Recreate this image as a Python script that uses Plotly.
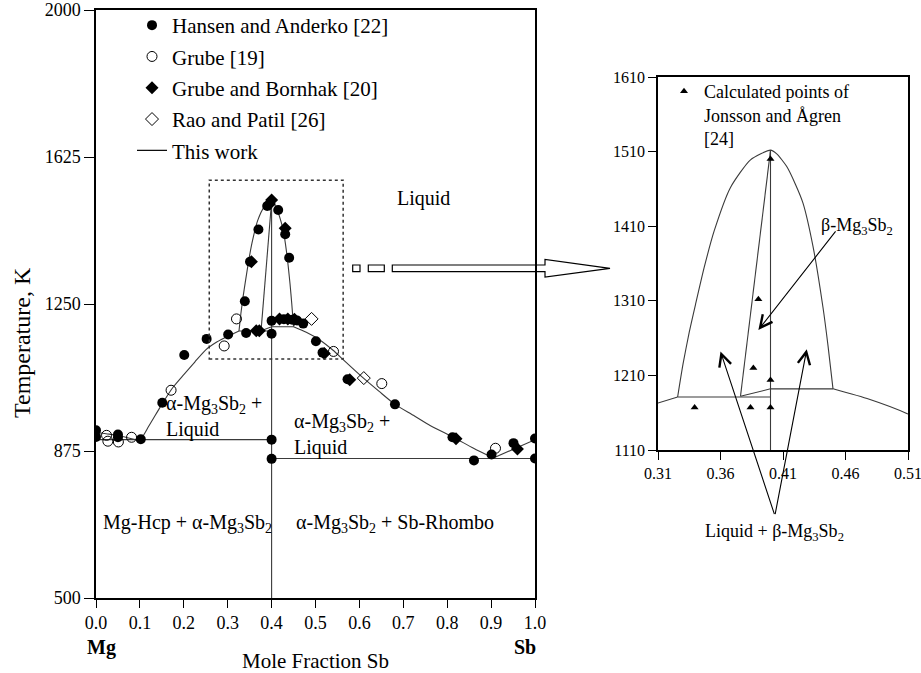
import plotly.graph_objects as go

W, H = 921, 673
FONT = "Liberation Serif, Times New Roman, serif"

# ---------------- data (mole fraction Sb, temperature K) ----------------
hansen_x = [0.0, 0.0, 0.05, 0.05, 0.102, 0.151, 0.201, 0.252, 0.301, 0.342, 0.339, 0.351,
            0.370, 0.39, 0.415, 0.431, 0.440, 0.40, 0.40, 0.40, 0.40, 0.428, 0.447, 0.458,
            0.472, 0.501, 0.516, 0.573, 0.681, 0.812, 0.861, 0.901, 0.951, 1.0, 1.0]
hansen_T = [928, 911, 917, 910, 905, 998, 1120, 1161, 1172, 1176, 1257, 1358,
            1440, 1500, 1490, 1428, 1368, 1207, 1174, 904, 855, 1211, 1210, 1208,
            1200, 1155, 1126, 1058, 994, 910, 851, 866, 895, 907, 856]

grube_x = [0.024, 0.027, 0.051, 0.081, 0.171, 0.292, 0.320, 0.541, 0.651, 0.910]
grube_T = [915, 900, 898, 910, 1030, 1143, 1212, 1129, 1047, 882]

bornhak_x = [0.365, 0.372, 0.354, 0.40, 0.395, 0.431, 0.418, 0.437, 0.452, 0.52, 0.578, 0.82, 0.96]
bornhak_T = [1182, 1182, 1358, 1515, 1505, 1443, 1212, 1212, 1211, 1124, 1057, 906, 880]

rao_x = [0.491, 0.610]
rao_T = [1212, 1061]

jonsson_x = [0.40, 0.3903, 0.3863, 0.40, 0.3393, 0.384, 0.40]
jonsson_T = [1500, 1312, 1220, 1204, 1167, 1167, 1167]

# calculated phase boundaries ("This work")
alpha_left_x = [0.0, 0.03, 0.06, 0.10, 0.12, 0.15, 0.175, 0.20, 0.225, 0.25, 0.275, 0.30, 0.31, 0.3257]
alpha_left_T = [923, 918, 912, 904, 938, 994, 1037, 1070, 1102, 1133, 1153, 1168, 1173, 1181]
alpha_right_x = [0.45, 0.479, 0.509, 0.54, 0.563, 0.606, 0.645, 0.681, 0.723, 0.761, 0.814, 0.86, 0.905]
alpha_right_T = [1192, 1178, 1159, 1132, 1108, 1064, 1027, 994, 966, 940, 910, 882, 857]
sb_liq_x = [0.905, 0.95, 1.0]
sb_liq_T = [857, 880, 904]
beta_liq_x = [0.3257, 0.330, 0.335, 0.340, 0.347, 0.355, 0.368, 0.384, 0.40,
              0.405, 0.413, 0.420, 0.426, 0.434, 0.442, 0.446, 0.450]
beta_liq_T = [1181, 1225, 1268, 1305, 1355, 1404, 1462, 1499, 1512,
              1507, 1490, 1466, 1441, 1383, 1301, 1250, 1192]
beta_inner_x = [0.376, 0.40]
beta_inner_T = [1182, 1512]
peri_left_x = [0.3257, 0.40]
peri_left_T = [1181, 1181]
peri_right_x = [0.376, 0.40, 0.45]
peri_right_T = [1182, 1192, 1192]
compound_x = [0.40, 0.40]
compound_T = [500, 1512]
eut_left_x = [0.0, 0.40]
eut_left_T = [904, 904]
eut_right_x = [0.40, 1.0]
eut_right_T = [856, 856]

x_ticks = [i / 10 for i in range(11)]
y_ticks = [500, 875, 1250, 1625, 2000]
x2_ticks = [0.31, 0.36, 0.41, 0.46, 0.51]
x2_ticktext = ["0.31", "0.36", "0.41", "0.46", "0.51"]
y2_ticks = [1110, 1210, 1310, 1410, 1510, 1610]

zoom_box = dict(x0=0.258, x1=0.563, y0=1110, y1=1566)


# ---------------- helpers ----------------
def px(x):
    return x / W


def py(y):
    return 1 - y / H


LINE_COLOR = "#3a3a3a"

fig = go.Figure()

curves = [
    (alpha_left_x, alpha_left_T, "spline"),
    (alpha_right_x, alpha_right_T, "spline"),
    (sb_liq_x, sb_liq_T, "linear"),
    (beta_liq_x, beta_liq_T, "spline"),
    (beta_inner_x, beta_inner_T, "linear"),
    (peri_left_x, peri_left_T, "linear"),
    (peri_right_x, peri_right_T, "linear"),
    (compound_x, compound_T, "linear"),
    (eut_left_x, eut_left_T, "linear"),
    (eut_right_x, eut_right_T, "linear"),
]

for ax_suffix in ["", "2"]:
    for cx, cy, shape in curves:
        fig.add_trace(go.Scatter(
            x=cx, y=cy, mode="lines",
            line=dict(color=LINE_COLOR, width=1.1, shape=shape, smoothing=0.6),
            xaxis="x" + ax_suffix, yaxis="y" + ax_suffix,
            showlegend=False, hoverinfo="skip",
        ))

# experimental points (main plot)
fig.add_trace(go.Scatter(
    x=hansen_x, y=hansen_T, mode="markers", name="Hansen and Anderko [22]",
    marker=dict(symbol="circle", size=10, color="black"), legendgroup="g1"))
fig.add_trace(go.Scatter(
    x=grube_x, y=grube_T, mode="markers", name="Grube [19]",
    marker=dict(symbol="circle-open", size=10, color="black", line=dict(width=1)), legendgroup="g2"))
fig.add_trace(go.Scatter(
    x=bornhak_x, y=bornhak_T, mode="markers", name="Grube and Bornhak [20]",
    marker=dict(symbol="diamond", size=10, color="black"), legendgroup="g3"))
fig.add_trace(go.Scatter(
    x=rao_x, y=rao_T, mode="markers", name="Rao and Patil [26]",
    marker=dict(symbol="diamond-open", size=10, color="black", line=dict(width=1)), legendgroup="g4"))
# legend entry for the calculated lines
fig.add_trace(go.Scatter(
    x=[None], y=[None], mode="lines", name="This work",
    line=dict(color="black", width=1.2), legendgroup="g5"))

# inset calculated points
fig.add_trace(go.Scatter(
    x=jonsson_x, y=jonsson_T, mode="markers",
    name="Calculated points of<br>Jonsson and Ågren<br>[24]",
    marker=dict(symbol="triangle-up", size=7, color="black"),
    xaxis="x2", yaxis="y2", legend="legend2"))

# ---------------- shapes ----------------
shapes = [
    dict(type="rect", xref="x", yref="y", line=dict(color="#333", width=1.5, dash="dot"),
         fillcolor="rgba(0,0,0,0)", **zoom_box),
    # hollow pointer arrow from the zoom box to the inset
    dict(type="rect", xref="paper", yref="paper", x0=px(352.7), x1=px(360), y0=py(271.7), y1=py(265),
         line=dict(color="black", width=1.2), fillcolor="rgba(0,0,0,0)"),
    dict(type="rect", xref="paper", yref="paper", x0=px(368.3), x1=px(384.3), y0=py(271.7), y1=py(265),
         line=dict(color="black", width=1.2), fillcolor="rgba(0,0,0,0)"),
    dict(type="path", xref="paper", yref="paper",
         path="M {a},{b} L {c},{b} L {c},{d} L {e},{f} L {c},{g} L {c},{h} L {a},{h} Z".format(
             a=px(392.3), b=py(265), c=px(545), d=py(259.5), e=px(610), f=py(268.3),
             g=py(277), h=py(271.7)),
         line=dict(color="black", width=1.2), fillcolor="rgba(0,0,0,0)"),
]

# ---------------- annotations ----------------
ann_font = dict(family=FONT, size=20, color="black")
ann_font_s = dict(family=FONT, size=18, color="black")
alpha = "α-Mg<sub>3</sub>Sb<sub>2</sub>"
beta = "β-Mg<sub>3</sub>Sb<sub>2</sub>"
C = dict(xanchor="center", yanchor="middle", showarrow=False)
L = dict(xanchor="left", yanchor="middle", showarrow=False, align="left")
annotations = [
    dict(x=0.745, y=1519, xref="x", yref="y", text="Liquid", font=ann_font, **C),
    dict(x=0.155, y=962, xref="x", yref="y", text=alpha + " +<br>Liquid", font=ann_font, **L),
    dict(x=0.447, y=918, xref="x", yref="y", text=alpha + " +<br>Liquid", font=ann_font, **L),
    dict(x=0.208, y=690, xref="x", yref="y", text="Mg-Hcp + " + alpha, font=ann_font, **C),
    dict(x=0.68, y=690, xref="x", yref="y", text=alpha + " + Sb-Rhombo", font=ann_font, **C),
    dict(x=0.012, y=py(647), xref="x", yref="paper", text="<b>Mg</b>", font=ann_font, **C),
    dict(x=0.978, y=py(647), xref="x", yref="paper", text="<b>Sb</b>", font=ann_font, **C),
    dict(x=px(315), y=py(661), xref="paper", yref="paper", text="Mole Fraction Sb",
         font=dict(family=FONT, size=21, color="black"), **C),
    dict(x=px(22), y=py(343), xref="paper", yref="paper", text="Temperature, K",
         font=dict(family=FONT, size=24, color="black"), textangle=-90, **C),
    # inset labels and arrows
    dict(x=0.469, y=1410, xref="x2", yref="y2", text=beta, font=ann_font_s, **C),
    dict(x=0.3903, y=1271, xref="x2", yref="y2", ax=0.453, ay=1405, axref="x2", ayref="y2",
         text="", showarrow=True, arrowhead=5, arrowsize=2.2, arrowwidth=1.1, arrowcolor="black"),
    dict(x=0.4035, y=py(532), xref="x2", yref="paper", text="Liquid + " + beta, font=ann_font_s, **C),
    dict(x=0.360, y=1242, xref="x2", yref="y2", ax=0.4035, ay=1022, axref="x2", ayref="y2",
         text="", showarrow=True, arrowhead=5, arrowsize=2.2, arrowwidth=1.1, arrowcolor="black"),
    dict(x=0.429, y=1245, xref="x2", yref="y2", ax=0.4035, ay=1022, axref="x2", ayref="y2",
         text="", showarrow=True, arrowhead=5, arrowsize=2.2, arrowwidth=1.1, arrowcolor="black"),
]

axis_common = dict(showline=True, linecolor="black", linewidth=1.5, mirror=True,
                   ticks="outside", tickcolor="black", showgrid=False, zeroline=False,
                   tickfont=dict(family=FONT, size=18, color="black"))
inset_font = dict(family=FONT, size=16, color="black")

fig.update_layout(
    width=W, height=H, autosize=False,
    margin=dict(l=0, r=0, t=0, b=0, pad=0, autoexpand=False),
    paper_bgcolor="white", plot_bgcolor="white",
    xaxis=dict(domain=[px(96), px(535)], range=[0, 1], tickvals=x_ticks, tickformat=".1f",
               ticklen=8, anchor="y", **axis_common),
    yaxis=dict(domain=[py(598), py(10)], range=[500, 2000], tickvals=y_ticks,
               ticklen=10, anchor="x", **axis_common),
    xaxis2=dict(domain=[px(658), px(908)], range=[0.31, 0.51], tickvals=x2_ticks,
                ticktext=x2_ticktext, ticklen=8, anchor="y2", ticklabeloverflow="allow",
                **{**axis_common, "tickfont": inset_font}),
    yaxis2=dict(domain=[py(450), py(77)], range=[1110, 1610], tickvals=y2_ticks,
                ticklen=8, anchor="x2", **{**axis_common, "tickfont": inset_font}),
    legend=dict(x=px(132), y=py(5), xanchor="left", yanchor="top",
                font=dict(family=FONT, size=21, color="black"),
                bgcolor="rgba(0,0,0,0)", tracegroupgap=1, itemwidth=30),
    legend2=dict(x=px(664), y=py(73), xanchor="left", yanchor="top", valign="top",
                 font=dict(family=FONT, size=18, color="black"),
                 bgcolor="rgba(0,0,0,0)", itemwidth=30),
    shapes=shapes,
    annotations=annotations,
    font=dict(family=FONT, color="black"),
)

fig.write_html("out.html")
